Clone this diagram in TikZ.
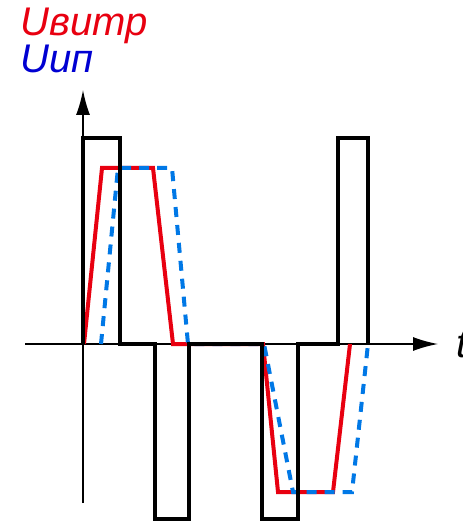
\documentclass[tikz,border=0pt]{standalone}
\usepackage{fontspec}
\setmainfont{Liberation Sans}
\usetikzlibrary{positioning, arrows.meta, calc}
\definecolor{sigred}{RGB}{232,0,16}
\definecolor{sigblue}{RGB}{0,120,230}
\definecolor{labblue}{RGB}{0,0,210}

\begin{document}
\begin{tikzpicture}[x=0.5pt, y=-0.5pt, font=\fontsize{20}{24}\selectfont\itshape,
    axis/.style={line width=0.75pt, -{Latex[length=12.5pt,width=7pt]}},
    pulse/.style={line width=2pt, black},
    ubtr/.style={line width=2pt, sigred},
    uip/.style={line width=2pt, sigblue, dash pattern=on 5pt off 4pt}]
        \useasboundingbox (0,0) rectangle (462,522);
        % оси
        \coordinate (O) at (83,344);
        \coordinate (ytop) at (83,90);
        \coordinate (ybot) at (83,503);
        \coordinate (xbeg) at (25,344);
        \coordinate (xend) at (438,344);
        \draw[axis] (ybot)--(ytop);
        \draw[axis] (xbeg)--(xend);
        % напряжения
        \draw[ubtr] (84,344)--(102,168)--(153,168)--(173,344)--(263,344)
            --(278,492)--(333,492)--(350,344);
        \draw[uip] (101,344)--(118,168)--(172,168)--(188,344)--(264,344)
            --(293,492)--(352,492)--(368,344);
        % импульсы
        \draw[pulse] (O)--(83,138)--(120,138)--(120,344)--(155,344)--(155,519)
            --(189,519)--(189,344)--(262,344)--(262,519)--(298,519)--(298,344)
            --(338,344)--(338,138)--(368,138)--(368,344);
        % подписи
        \node[sigred, anchor=base west, inner sep=0] (lbtr) at (20,36) {Uвитр};
        \node[labblue, anchor=base west, inner sep=0] (lip) at (20,73) {Uип};
        \node[anchor=base west, inner sep=0] (lt) at (456,357) {t};
      \end{tikzpicture}
\end{document}
